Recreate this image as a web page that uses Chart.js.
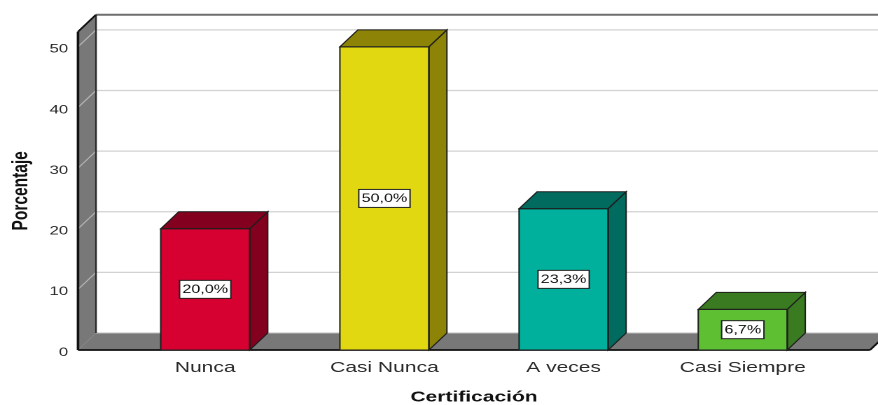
<!DOCTYPE html>
<html>
<head>
<meta charset="utf-8">
<script src="https://cdn.jsdelivr.net/npm/chart.js@4/dist/chart.umd.min.js"></script>
<style>
  html, body { margin: 0; padding: 0; background: #ffffff; overflow: hidden; }
  #wrap { width: 878px; height: 405px; overflow: hidden; position: relative; }
  #c { display: block; transform-origin: 0 0; }
</style>
</head>
<body>
<div id="wrap"><canvas id="c" width="627" height="405"></canvas></div>
<script>
// ---- data ----
const categories = ['Nunca', 'Casi Nunca', 'A veces', 'Casi Siempre'];
const percentages = [20.0, 50.0, 23.3, 6.7];
const yTicks = [0, 10, 20, 30, 40, 50];
const xTitle = 'Certificación';
const yTitle = 'Porcentaje';

// ---- styling ----
const STRETCH = 878 / 627;              // reference is stretched horizontally
document.getElementById('c').style.transform = 'scaleX(' + STRETCH + ')';
const DX = 18 / STRETCH, DY = 17;       // 3D depth offset
const FRONT = ['#d60031', '#e2d811', '#00b09c', '#5dbf31'];
const SHADE = ['#83001f', '#8c8307', '#006b5e', '#3a7a21'];
const WALL = '#787878';
const FONT = 'Arial, "Liberation Sans", sans-serif';
Chart.defaults.font.family = FONT;

function poly(ctx, pts, fill, stroke, lw) {
  ctx.beginPath();
  ctx.moveTo(pts[0][0], pts[0][1]);
  for (let i = 1; i < pts.length; i++) ctx.lineTo(pts[i][0], pts[i][1]);
  ctx.closePath();
  if (fill) { ctx.fillStyle = fill; ctx.fill(); }
  if (stroke) { ctx.strokeStyle = stroke; ctx.lineWidth = lw || 1; ctx.stroke(); }
}
function line(ctx, x1, y1, x2, y2, color, lw) {
  ctx.beginPath(); ctx.moveTo(x1, y1); ctx.lineTo(x2, y2);
  ctx.strokeStyle = color; ctx.lineWidth = lw; ctx.stroke();
}

const frame3d = {
  id: 'frame3d',
  beforeDatasetsDraw(chart) {
    const { ctx, chartArea: a, scales: { y } } = chart;
    const L = a.left, R = a.right, T = a.top, B = a.bottom, W = chart.width + 40;
    ctx.save();
    // back wall
    ctx.fillStyle = '#ffffff';
    ctx.fillRect(L + DX, T - DY, W, B - T);
    // grid lines on back wall
    y.ticks.forEach(t => {
      if (t.value === 0) return;
      const py = y.getPixelForValue(t.value) - DY;
      line(ctx, L + DX, py, W, py, '#d2d2d2', 1.3);
    });
    // left wall
    poly(ctx, [[L, T], [L + DX, T - DY], [L + DX, B - DY], [L, B]], WALL);
    y.ticks.forEach(t => {
      if (t.value === 0) return;
      const py = y.getPixelForValue(t.value);
      line(ctx, L, py, L + DX, py - DY, '#b4b4b4', 1);
    });
    // floor
    poly(ctx, [[L, B], [L + DX, B - DY], [R + DX, B - DY], [R, B]], WALL);
    line(ctx, L + DX, B - DY, W, B - DY, '#bdbdbd', 1);
    // edges
    line(ctx, L + DX, T - DY, W, T - DY, '#6e6e6e', 2);
    line(ctx, L + DX, T - DY, L + DX, B - DY, '#2a2a2a', 1.2);
    line(ctx, L, T, L + DX, T - DY, '#111', 1.5);
    line(ctx, L, T, L, B, '#111', 1.8);
    line(ctx, L, B, R, B, '#111', 1.8);
    line(ctx, R, B, R + DX, B - DY, '#111', 1.5);
    ctx.restore();
  },
  afterDatasetsDraw(chart) {
    const { ctx, scales: { y } } = chart;
    const meta = chart.getDatasetMeta(0);
    ctx.save();
    meta.data.forEach((el, i) => {
      const p = el.getProps(['x', 'y', 'base', 'width'], true);
      const l = p.x - p.width / 2, r = p.x + p.width / 2, t = p.y, b = p.base;
      // side face
      poly(ctx, [[r, t], [r + DX, t - DY], [r + DX, b - DY], [r, b]], SHADE[i], '#1e1e1e', 1);
      // top face
      poly(ctx, [[l, t], [l + DX, t - DY], [r + DX, t - DY], [r, t]], SHADE[i], '#1e1e1e', 1);
      // front outline
      ctx.strokeStyle = '#1e1e1e'; ctx.lineWidth = 1;
      ctx.strokeRect(l, t, r - l, b - t);
      // value label
      const v = percentages[i];
      const txt = v.toFixed(1).replace('.', ',') + '%';
      ctx.font = '11.5px ' + FONT;
      const w = ctx.measureText(txt).width + 4;
      const h = 18;
      const cy = y.getPixelForValue(v / 2);
      ctx.fillStyle = '#ffffff';
      ctx.fillRect(p.x - w / 2, cy - h / 2, w, h);
      ctx.strokeStyle = '#222'; ctx.lineWidth = 1;
      ctx.strokeRect(p.x - w / 2, cy - h / 2, w, h);
      ctx.fillStyle = '#111';
      ctx.textAlign = 'center'; ctx.textBaseline = 'middle';
      ctx.fillText(txt, p.x, cy + 0.5);
    });
    ctx.restore();
  }
};

new Chart(document.getElementById('c'), {
  type: 'bar',
  data: {
    datasets: [{
      data: categories.map((c, i) => ({ x: i, y: percentages[i] })),
      backgroundColor: FRONT,
      borderWidth: 0,
      barThickness: 89 / STRETCH
    }]
  },
  options: {
    responsive: false,
    animation: false,
    devicePixelRatio: 2,
    layout: { padding: { top: 31.7, right: 627 - 870 / STRETCH, left: 0, bottom: 0 } },
    plugins: { legend: { display: false }, tooltip: { enabled: false } },
    scales: {
      x: {
        type: 'linear',
        offset: false,
        min: -0.71, max: 3.71,
        afterBuildTicks: s => { s.ticks = categories.map((c, i) => ({ value: i })); },
        afterFit: s => { s.height = 55; },
        grid: { display: false, drawTicks: false, offset: false },
        border: { display: false },
        ticks: {
          callback: v => categories[v] ?? '',
          font: { size: 15 },
          color: '#2a2a2a',
          padding: 9,
          maxRotation: 0,
          autoSkip: false
        },
        title: {
          display: true, text: xTitle,
          font: { size: 15, weight: 'bold', lineHeight: 1 },
          color: '#111',
          padding: { top: 0, bottom: 0 }
        }
      },
      y: {
        min: 0, max: 52.5,
        afterBuildTicks: s => { s.ticks = yTicks.map(v => ({ value: v })); },
        afterFit: s => { s.width = 78 / STRETCH; },
        grid: { display: false, drawTicks: false },
        border: { display: false },
        ticks: { font: { size: 12 }, color: '#2a2a2a', padding: 7, labelOffset: 2.5 },
        title: {
          display: true, text: yTitle,
          font: { size: 15.5, weight: 'bold', lineHeight: 1 },
          color: '#111',
          padding: { top: 7.5, bottom: 0 }
        }
      }
    }
  },
  plugins: [frame3d]
});
</script>
</body>
</html>
